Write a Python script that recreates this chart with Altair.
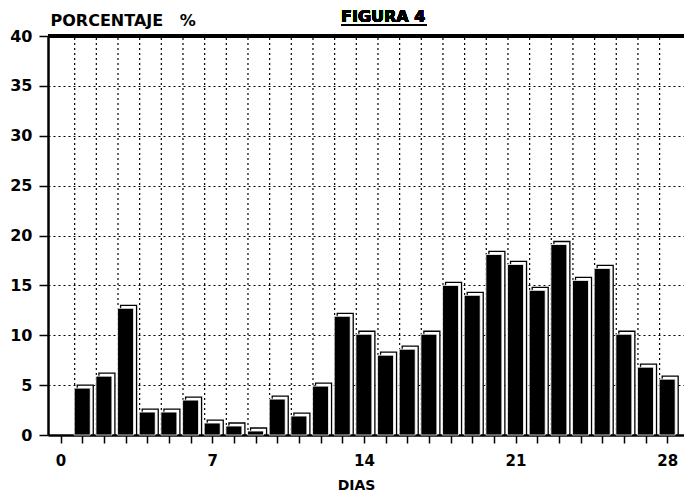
import altair as alt
import pandas as pd

days = list(range(1, 29))
values = [4.7, 5.9, 12.7, 2.3, 2.3, 3.5, 1.2, 0.9, 0.4, 3.6, 1.9, 4.9, 11.9, 10.1,
          8.0, 8.6, 10.1, 15.0, 14.0, 18.1, 17.1, 14.5, 19.1, 15.5, 16.7, 10.1, 6.8, 5.6]
x_ticks = list(range(0, 29))
y_ticks = [0, 5, 10, 15, 20, 25, 30, 35, 40]
vgrid = [0.65, 1.65, 2.65, 3.65, 4.65, 5.65, 6.65, 7.65, 8.65, 9.65, 10.65, 11.65, 12.65, 13.65,
         14.65, 15.65, 16.65, 17.65, 18.65, 19.65, 20.65, 21.65, 22.65, 23.65, 24.65, 25.65, 26.65, 27.65]

df = pd.DataFrame({"dia": days, "pct": values})
gdf = pd.DataFrame({"g": vgrid})

FONT = "DejaVu Sans"
xs = alt.Scale(domain=[-0.35, 28.73], nice=False, zero=False)
ys = alt.Scale(domain=[0, 40], nice=False)

x_axis = alt.Axis(values=x_ticks, labelExpr="datum.value % 7 == 0 ? datum.label : ''",
                  labelOverlap=False, labelBound=False, labelFlush=False,
                  grid=False, tickSize=8, tickColor="black", tickWidth=1.5,
                  domainColor="black", domainWidth=2.5, labelFont=FONT, labelFontSize=15,
                  labelFontWeight="bold", labelColor="black", labelPadding=10,
                  title="DIAS", titleFont=FONT, titleFontSize=14, titleFontWeight="bold",
                  titleColor="black", titleX=308, titleY=43, titleAnchor="middle")
y_axis = alt.Axis(values=y_ticks, grid=True, gridColor="black", gridDash=[2, 3], gridWidth=1.2,
                  labelOverlap=False, labelFlush=False, orient="left",
                  tickSize=9, tickColor="black", tickWidth=1.5, domainColor="black", domainWidth=2.5,
                  labelFont=FONT, labelFontSize=16, labelFontWeight="bold", labelColor="black",
                  labelPadding=7, title="PORCENTAJE\u00a0\u00a0\u00a0%", titleAngle=0,
                  titleFont=FONT, titleFontSize=16, titleFontWeight="bold", titleColor="black",
                  titleX=2, titleY=-11, titleAlign="left", titleBaseline="alphabetic")

grid = alt.Chart(gdf).mark_rule(color="black", strokeDash=[2, 3], strokeWidth=1.2).encode(
    x=alt.X("g:Q", scale=xs, axis=x_axis),
    y=alt.datum(0, scale=ys, axis=y_axis),
    y2=alt.datum(40),
)

back = alt.Chart(df).mark_bar(width=16, xOffset=3, yOffset=-3, y2Offset=0, fill="white",
                              stroke="black", strokeWidth=1.3).encode(
    x=alt.X("dia:Q", scale=xs, axis=x_axis),
    y=alt.Y("pct:Q", scale=ys, axis=y_axis),
    y2=alt.datum(0),
)
front = alt.Chart(df).mark_bar(width=16, fill="black", stroke="white", strokeWidth=0.8).encode(
    x=alt.X("dia:Q", scale=xs, axis=x_axis),
    y=alt.Y("pct:Q", scale=ys, axis=y_axis),
    y2=alt.datum(0),
)

top = alt.Chart(df).mark_rule(color="black", strokeWidth=2.5).encode(
    x=alt.value(0), x2=alt.value(640), y=alt.value(0))

fig = alt.Chart(df).mark_text(text="FIGURA 4", font=FONT, fontSize=16, fontWeight="bold",
                              align="left", baseline="alphabetic", color="black").encode(
    x=alt.value(293), y=alt.value(-14))
underline = alt.Chart(df).mark_rule(color="black", strokeWidth=1.5).encode(
    x=alt.value(293), x2=alt.value(379), y=alt.value(-11))

chart = alt.layer(grid, back, front, top, fig, underline).properties(
    width=640, height=399,
    autosize=alt.AutoSizeParams(type="none"),
    padding={"left": 48, "top": 36, "right": -4, "bottom": 64},
    background="white",
).resolve_scale(x="shared", y="shared").resolve_axis(x="shared", y="shared").configure_view(
    strokeWidth=0, stroke="transparent")

chart.save("out.html", embed_options={"renderer": "svg", "actions": False})
